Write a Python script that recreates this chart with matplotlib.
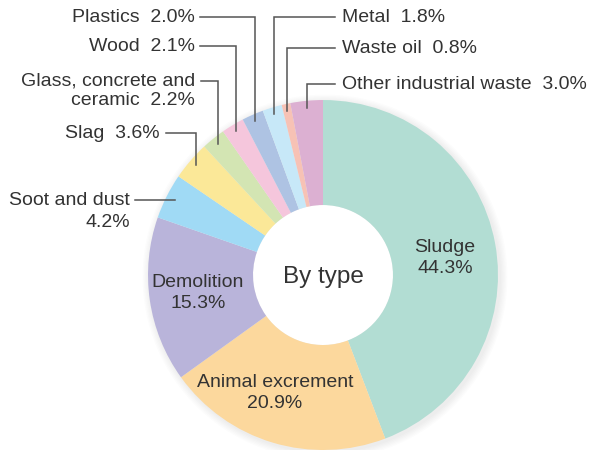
import numpy as np
import matplotlib
matplotlib.use('Agg')
import matplotlib.pyplot as plt
from matplotlib.patches import Circle

plt.rcParams['font.family'] = ['Liberation Sans', 'DejaVu Sans']

# waste by type (%), clockwise from the top
names = ['Sludge', 'Animal excrement', 'Demolition', 'Soot and dust', 'Slag',
         'Glass, concrete and\nceramic', 'Wood', 'Plastics', 'Metal',
         'Waste oil', 'Other industrial waste']
shares = [44.3, 20.9, 15.3, 4.2, 3.6, 2.2, 2.1, 2.0, 1.8, 0.8, 3.0]
colors = ['#b2ddd3', '#fcd89d', '#b9b4da', '#a0daf5', '#fbe898', '#d3e5b3',
          '#f5c6dc', '#aec3e3', '#c7e8f8', '#f7c2b5', '#dcb0d2']

W, H = 592, 450
fig = plt.figure(figsize=(W / 100, H / 100), dpi=100)
ax = fig.add_axes([0, 0, 1, 0.9999])

cx, cy, R = 323, 450 - 275, 175
txt = '#333333'
lc = '#555555'
fs = 14

# soft shadow
for k in range(6):
    ax.add_patch(Circle((cx + 2, cy - 2), R + 1 + k * 1.3, color='#000000',
                        alpha=0.012, lw=0, zorder=0))
ax.add_patch(Circle((cx, cy), R * 0.4, color='white', lw=0, zorder=1))

wedges, _ = ax.pie(shares, colors=colors, startangle=90, counterclock=False,
                   radius=R, center=(cx, cy), frame=True,
                   wedgeprops=dict(width=R * 0.6, edgecolor='none', zorder=2))
ax.set_xlim(0, W)
ax.set_ylim(0, H)
ax.axis('off')

def mid(i):
    w = wedges[i]
    return np.deg2rad((w.theta1 + w.theta2) / 2)

# inside labels
inside = {0: (445, 258), 1: (275, 393), 2: (198, 293)}
for i, (x, y) in inside.items():
    ax.text(x, H - y, f'{names[i]}\n{shares[i]:.1f}%', ha='center', va='center',
            fontsize=fs, color=txt, linespacing=1.35, zorder=5)

ax.text(cx, H - 277, 'By type', ha='center', va='center', fontsize=17.5,
        color=txt, zorder=5)

# outside labels with elbow leader lines: index -> (text x, text y, line start x, ha)
outside = {
    7: (195, 17, 200, 'right'),
    6: (195, 46, 200, 'right'),
    5: (195, 81, 201, 'right'),
    4: (160, 133, 166, 'right'),
    8: (342, 17, 335, 'left'),
    9: (342, 48, 335, 'left'),
    10: (342, 84, 335, 'left'),
}
r_end = 168
for i, (tx, ty, lx, ha) in outside.items():
    a = mid(i)
    px, py = cx + r_end * np.cos(a), cy + r_end * np.sin(a)
    ax.plot([lx, px, px], [H - ty, H - ty, py], color=lc, lw=1.1,
            solid_joinstyle='miter', zorder=4)
    if '\n' in names[i]:
        a1, a2 = names[i].split('\n')
        ax.text(tx, H - ty, a1, ha=ha, va='center', fontsize=fs, color=txt)
        ax.text(tx, H - ty - 19, f'{a2}  {shares[i]:.1f}%', ha=ha,
                va='center', fontsize=fs, color=txt)
    else:
        ax.text(tx, H - ty, f'{names[i]}  {shares[i]:.1f}%', ha=ha,
                va='center', fontsize=fs, color=txt)

# soot and dust: straight leader line
a = mid(3)
px, py = cx + 166 * np.cos(a), cy + 166 * np.sin(a)
ax.plot([135, px], [py, py], color=lc, lw=1.1, zorder=4)
ax.text(130, py, names[3], ha='right', va='center', fontsize=fs, color=txt)
ax.text(130, py - 22, f'{shares[3]:.1f}%', ha='right', va='center',
        fontsize=fs, color=txt)

fig.savefig('out.png', dpi=100)
